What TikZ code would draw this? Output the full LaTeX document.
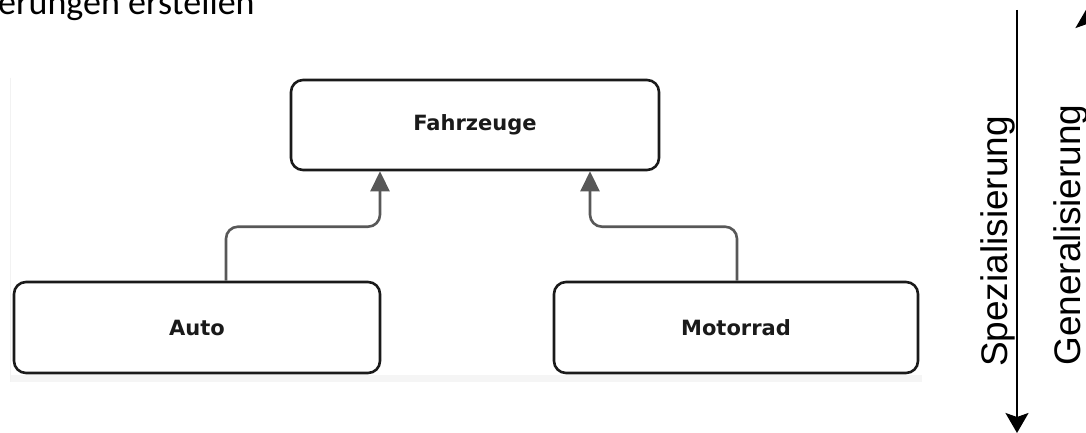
\documentclass[tikz,border=0pt]{standalone}
\usepackage{fontspec}
\setmainfont{Liberation Sans}
\newfontfamily\calib{Carlito}
\newfontfamily\verd{DejaVu Sans}
\usetikzlibrary{arrows.meta}
\definecolor{conngray}{HTML}{585858}
\definecolor{boxline}{HTML}{1A1A1A}
\begin{document}
\begin{tikzpicture}[x=1pt,y=-1pt,
  box/.style={draw=boxline, line width=2.6pt, rounded corners=12pt, fill=white,
    font=\verd\bfseries\fontsize{21pt}{25pt}\selectfont, text=boxline, inner sep=0pt},
  conn/.style={draw=conngray, line width=2.6pt, rounded corners=12pt,
    -{Triangle[width=19pt,length=20pt]}},
  axis/.style={draw=black, line width=2.2pt, -{Stealth[width=23pt,length=20pt,inset=4pt]}},
  vlabel/.style={rotate=90, anchor=base, inner sep=0pt, font=\fontsize{37pt}{44pt}\selectfont}]
\useasboundingbox (0,0) rectangle (1086,433);
\fill[white] (0,0) rectangle (1086,433);
% faint background edge of embedded picture
\fill[black!4] (10,375) rectangle (922,382);
\draw[black!5, line width=1pt] (10.5,78) -- (10.5,382);
% top text
\node[anchor=base west, inner sep=0pt, font=\calib\fontsize{36pt}{43pt}\selectfont] (title) at (-2,15) {erungen erstellen};
% boxes
\node[box, minimum width=368pt, minimum height=90pt] (fz) at (475,125) {Fahrzeuge};
\node[box, minimum width=366pt, minimum height=91pt] (auto) at (197,327.5) {Auto};
\node[box, minimum width=364pt, minimum height=91pt] (moto) at (736,327.5) {Motorrad};
% connectors
\draw[conn] ([xshift=29pt]auto.north) -- ++(0,-54) -| ([xshift=-95pt]fz.south);
\draw[conn] ([xshift=1pt]moto.north) -- ++(0,-54) -| ([xshift=115pt]fz.south);
% right axes
\coordinate (s1) at (1017,10);
\coordinate (s2) at (1017,433);
\draw[axis] (s1) -- (s2);
\coordinate (g1) at (1087,433);
\coordinate (g2) at (1087,8);
\draw[axis] (g1) -- (g2);
\node[vlabel] (spez) at (1007,241.5) {Spezialisierung};
\node[vlabel] (gen) at (1080,235) {Generalisierung};
\end{tikzpicture}
\end{document}
